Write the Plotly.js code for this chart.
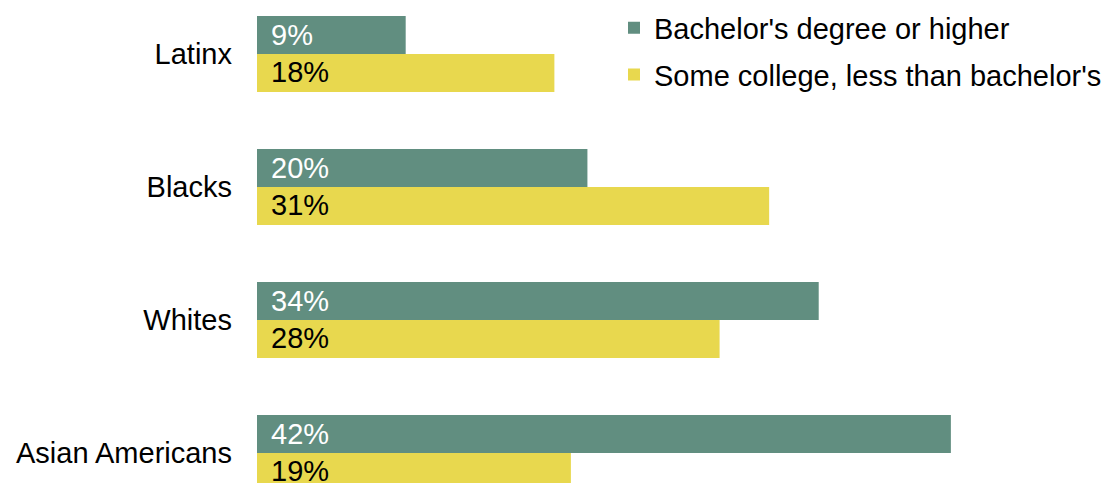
<!DOCTYPE html>
<html><head><meta charset="utf-8">
<script src="https://cdn.plot.ly/plotly-3.0.1.min.js"></script>
<style>html,body{margin:0;padding:0;background:#fff}#chart{width:1107px;height:483px}</style>
</head><body><div id="chart"></div>
<script>
const categories = ["Latinx", "Blacks", "Whites", "Asian Americans"];
const bachelors = [9, 20, 34, 42];
const someCollege = [18, 31, 28, 19];
const seriesNames = ["Bachelor's degree or higher", "Some college, less than bachelor's"];
const colors = ["#618E80", "#E8D84E"];
const FONT = "Liberation Sans, Arial, sans-serif";

const traces = [
  {type:'bar', orientation:'h', name: seriesNames[0], y: categories, x: bachelors,
   marker:{color: colors[0]}, legendgroup:'a', hoverinfo:'none'},
  {type:'bar', orientation:'h', name: seriesNames[1], y: categories, x: someCollege,
   marker:{color: colors[1]}, legendgroup:'b', hoverinfo:'none'}
];

const annotations = [];
categories.forEach((c, i) => {
  annotations.push({x:0, y:c, xref:'x', yref:'y', text: bachelors[i] + '%', showarrow:false,
    xanchor:'left', yanchor:'middle', xshift:12, yshift:19, font:{family:FONT, size:29, color:'#ffffff'}});
  annotations.push({x:0, y:c, xref:'x', yref:'y', text: someCollege[i] + '%', showarrow:false,
    xanchor:'left', yanchor:'middle', xshift:12, yshift:-18, font:{family:FONT, size:29, color:'#000000'}});
});

const layout = {
  width:1107, height:483,
  margin:{l:257, r:0, t:0, b:0},
  paper_bgcolor:'#fff', plot_bgcolor:'#fff',
  barmode:'group', bargap:0.4286, bargroupgap:0,
  font:{family:FONT, size:29, color:'#000'},
  xaxis:{range:[0, 51.45], showgrid:false, zeroline:false, showticklabels:false, showline:false, fixedrange:true},
  yaxis:{type:'category', range:[3.2256, -0.406], autorange:false, showgrid:false, zeroline:false,
    showline:false, ticks:'', ticklabelstandoff:24, tickfont:{family:FONT, size:29, color:'#000'}},
  showlegend:true,
  legend:{x:1, xanchor:'right', y:0.995, yanchor:'top', xref:'paper', yref:'paper',
    font:{family:FONT, size:29, color:'#000'}, traceorder:'grouped', tracegroupgap:6,
    itemwidth:30, bgcolor:'rgba(0,0,0,0)'},
  annotations: annotations
};
Plotly.newPlot('chart', traces, layout, {displayModeBar:false, staticPlot:true});
</script></body></html>
